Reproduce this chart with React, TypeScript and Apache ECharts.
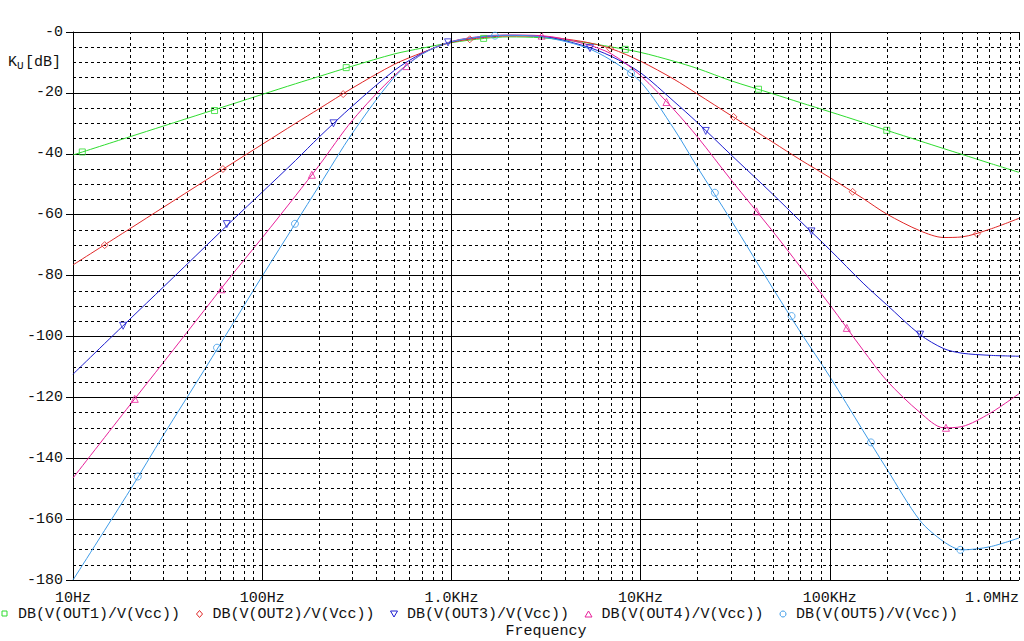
import React, { useEffect, useRef } from "react";
import * as echarts from "echarts";

// Frequencies (Hz) at which the curves were read
const freqs = [10, 20, 30, 50, 70, 100, 150, 200, 300, 500, 700, 1000, 1500, 2000, 3000, 5000, 7000, 10000, 15000, 20000, 30000, 50000, 70000, 100000, 150000, 200000, 300000, 400000, 500000, 700000, 1000000];

// dB values
const out1 = [-40.4, -34.4, -30.9, -26.5, -23.6, -20.5, -17.0, -14.6, -11.2, -7.2, -5.3, -3.5, -2.1, -1.6, -1.9, -3.4, -4.9, -6.7, -9.6, -12.0, -16.0, -20.3, -23.2, -26.2, -29.7, -32.3, -35.8, -38.3, -40.2, -43.1, -46.1];
const out2 = [-76.5, -64.6, -57.6, -48.8, -43.0, -36.9, -30.0, -25.2, -18.4, -10.6, -6.8, -3.4, -1.8, -1.3, -1.5, -3.2, -5.5, -9.6, -15.5, -20.4, -27.4, -36.2, -42.0, -47.8, -54.7, -59.8, -65.3, -67.5, -67.3, -64.8, -61.2];
const out3 = [-112.4, -94.3, -83.8, -70.5, -61.7, -52.6, -42.2, -34.5, -24.3, -12.6, -7.0, -3.2, -1.5, -1.1, -1.4, -4.5, -8.0, -13.4, -22.8, -29.8, -40.3, -53.3, -62.2, -71.5, -82.5, -89.6, -99.4, -104.0, -105.5, -106.2, -106.5];
const out4 = [-146.5, -122.5, -108.6, -91.0, -79.4, -67.6, -53.8, -43.8, -29.0, -14.3, -7.2, -3.1, -1.3, -1.0, -1.2, -3.8, -7.2, -14.3, -25.5, -34.5, -48.5, -65.5, -77.2, -89.6, -104.5, -114.5, -125.0, -130.0, -129.6, -125.3, -118.8];
const out5 = [-180.0, -150.5, -132.5, -110.5, -95.8, -80.2, -62.8, -50.5, -33.2, -14.8, -7.3, -3.2, -1.4, -1.1, -1.6, -4.8, -9.3, -16.4, -31.8, -44.5, -61.7, -84.2, -98.6, -113.2, -131.0, -143.5, -160.5, -167.4, -170.1, -169.1, -166.2];

// Marker positions [Hz, dB]
const marks1 = [[11.2, -39.4], [56, -25.8], [278, -11.7], [1480, -2.1], [8300, -5.7], [42000, -18.8], [200000, -32.3]];
const marks2 = [[14.7, -70.0], [62, -45.0], [268, -20.4], [1250, -2.4], [6900, -5.5], [31000, -27.9], [132000, -52.5], [600000, -66.3]];
const marks3 = [[18.4, -96.5], [65, -63.1], [238, -30.0], [960, -3.4], [5400, -5.3], [22100, -32.5], [80000, -65.5], [300000, -99.4]];
const marks4 = [[21.2, -120.5], [61, -84.5], [183, -46.9], [580, -11.2], [3000, -1.2], [13700, -23.0], [41000, -58.9], [123000, -97.2], [411000, -130.0]];
const marks5 = [[22, -146.0], [57.7, -103.7], [149, -63.0], [1700, -1.2], [8900, -13.5], [24700, -52.8], [62800, -93.3], [165000, -134.8], [490000, -170.1]];

const seriesNames = ["DB(V(OUT1)/V(Vcc))", "DB(V(OUT2)/V(Vcc))", "DB(V(OUT3)/V(Vcc))", "DB(V(OUT4)/V(Vcc))", "DB(V(OUT5)/V(Vcc))"];
const colors = ["#2edc2e", "#e02828", "#1c1cd0", "#e8209a", "#3d9be8"];

const xTickValues = [10, 100, 1000, 10000, 100000, 1000000];
const xTickLabels = ["10Hz", "100Hz", "1.0KHz", "10KHz", "100KHz", "1.0MHz"];
const yTickValues = [0, -20, -40, -60, -80, -100, -120, -140, -160, -180];
const yTickLabels = ["-0", "-20", "-40", "-60", "-80", "-100", "-120", "-140", "-160", "-180"];

const xAxisTitle = "Frequency";
const yAxisTitle = ["K", "U", "[dB]"];

const FONT = "'Liberation Mono', 'DejaVu Sans Mono', monospace";
const curves = [out1, out2, out3, out4, out5];
const markSets = [marks1, marks2, marks3, marks4, marks5];
const symbols = ["rect", "diamond", "triangle", "triangle", "circle"];
const rotations = [0, 0, 180, 0, 0];

export default function App() {
  const ref = useRef<HTMLDivElement>(null);
  useEffect(() => {
    if (!ref.current) return;
    const chart = echarts.init(ref.current, null, { renderer: "svg" });

    const gridLines: any[] = [];
    const decades = [10, 100, 1000, 10000, 100000];
    decades.forEach((d, i) => {
      if (i > 0) gridLines.push({ xAxis: d, lineStyle: { type: "solid" } });
      for (let k = 2; k <= 9; k++) gridLines.push({ xAxis: d * k });
    });
    gridLines.push({ xAxis: 1000000 });

    const series: any[] = [
      {
        type: "line",
        data: [[10, 0], [1000000, 0]],
        symbol: "none",
        lineStyle: { opacity: 0 },
        silent: true,
        z: 1,
        markLine: {
          silent: true,
          symbol: ["none", "none"],
          label: { show: false },
          lineStyle: { color: "#000", width: 1, type: [3, 3] },
          data: gridLines,
        },
      },
    ];
    curves.forEach((c, i) => {
      series.push({
        name: seriesNames[i],
        type: "line",
        data: freqs.map((f, j) => [f, c[j]]),
        symbol: "none",
        smooth: 0.3,
        lineStyle: { color: colors[i], width: 1 },
        z: 3,
      });
      series.push({
        name: seriesNames[i],
        type: "scatter",
        data: markSets[i],
        symbol: symbols[i],
        symbolRotate: rotations[i],
        symbolSize: i === 0 ? 6 : 7,
        itemStyle: { color: "rgba(255,255,255,0)", borderColor: colors[i], borderWidth: 1 },
        z: 4,
      });
    });

    const graphic: any[] = [];
    const legY = 614;
    seriesNames.forEach((name, i) => {
      const cx = 5 + 194.5 * i;
      const c = colors[i];
      const st = { fill: "none", stroke: c, lineWidth: 1 };
      if (i === 0) graphic.push({ type: "rect", shape: { x: cx - 3, y: legY - 3, width: 5, height: 5 }, style: st });
      if (i === 1) graphic.push({ type: "polygon", shape: { points: [[cx, legY - 3.5], [cx + 3, legY], [cx, legY + 3.5], [cx - 3, legY]] }, style: st });
      if (i === 2) graphic.push({ type: "polygon", shape: { points: [[cx - 3.5, legY - 3], [cx + 3.5, legY - 3], [cx, legY + 3]] }, style: st });
      if (i === 3) graphic.push({ type: "polygon", shape: { points: [[cx - 3.5, legY + 3], [cx + 3.5, legY + 3], [cx, legY - 3]] }, style: st });
      if (i === 4) graphic.push({ type: "circle", shape: { cx, cy: legY, r: 3 }, style: st });
      graphic.push({
        type: "text",
        x: cx + 13,
        y: legY,
        style: { text: name, font: `15px ${FONT}`, fill: "#111", verticalAlign: "middle", align: "left" },
      });
    });
    graphic.push({ type: "text", x: 546, y: 631, style: { text: xAxisTitle, font: `15px ${FONT}`, fill: "#111", align: "center", verticalAlign: "middle" } });
    graphic.push({ type: "text", x: 8, y: 62, style: { text: yAxisTitle[0], font: `15px ${FONT}`, fill: "#111", align: "left", verticalAlign: "middle" } });
    graphic.push({ type: "text", x: 17, y: 66, style: { text: yAxisTitle[1], font: `11px ${FONT}`, fill: "#111", align: "left", verticalAlign: "middle" } });
    graphic.push({ type: "text", x: 25, y: 62, style: { text: yAxisTitle[2], font: `15px ${FONT}`, fill: "#111", align: "left", verticalAlign: "middle" } });

    chart.setOption({
      animation: false,
      backgroundColor: "#fff",
      grid: { left: 73, right: 5, top: 32, bottom: 61 },
      xAxis: {
        type: "log",
        logBase: 10,
        min: 10,
        max: 1000000,
        axisLine: { lineStyle: { color: "#000", width: 1 } },
        axisTick: { show: true, length: 8, lineStyle: { color: "#000" } },
        splitLine: { show: false },
        minorTick: { show: false },
        axisLabel: {
          color: "#111",
          fontFamily: FONT,
          fontSize: 15,
          margin: 11,
          alignMaxLabel: "right",
          formatter: (v: number) => {
            const idx = xTickValues.findIndex((t) => Math.abs(Math.log10(t) - Math.log10(v)) < 1e-6);
            return idx >= 0 ? xTickLabels[idx] : "";
          },
        },
      },
      yAxis: {
        type: "value",
        min: -180,
        max: 0,
        interval: 20,
        axisLine: { show: true, lineStyle: { color: "#000", width: 1 } },
        axisTick: { show: true, length: 7, lineStyle: { color: "#000" } },
        axisLabel: {
          color: "#111",
          fontFamily: FONT,
          fontSize: 15,
          margin: 10,
          formatter: (v: number) => {
            const idx = yTickValues.findIndex((t) => Math.abs(t - v) < 1e-6);
            return idx >= 0 ? yTickLabels[idx] : String(v);
          },
        },
        splitLine: { show: true, lineStyle: { color: "#000", width: 1 } },
        minorTick: { show: false, splitNumber: 4 },
        minorSplitLine: { show: true, lineStyle: { color: "#000", width: 1, type: [3, 3] } },
      },
      series,
      graphic,
    });
    return () => chart.dispose();
  }, []);
  return <div ref={ref} style={{ position: "fixed", left: 0, top: 0, width: 1024, height: 641 }} />;
}
